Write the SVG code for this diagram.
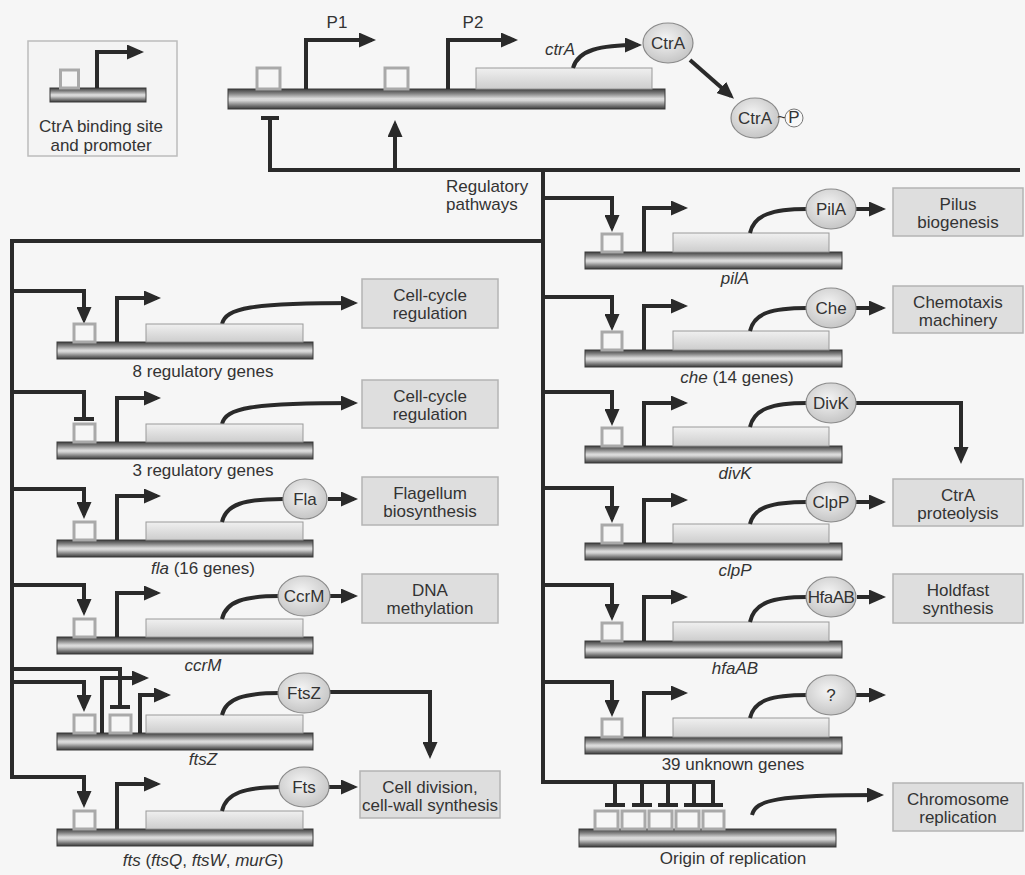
<svg xmlns="http://www.w3.org/2000/svg" width="1025" height="875" viewBox="0 0 1025 875">
<defs>
<linearGradient id="dna" x1="0" y1="0" x2="0" y2="1">
<stop offset="0" stop-color="#3e3e3e"/><stop offset="0.22" stop-color="#808080"/><stop offset="0.48" stop-color="#dcdcdc"/><stop offset="0.58" stop-color="#d4d4d4"/><stop offset="0.82" stop-color="#7a7a7a"/><stop offset="1" stop-color="#3a3a3a"/>
</linearGradient>
<linearGradient id="gene" x1="0" y1="0" x2="0" y2="1">
<stop offset="0" stop-color="#f0f0f0"/><stop offset="1" stop-color="#cdcdcd"/>
</linearGradient>
<radialGradient id="prot" cx="0.45" cy="0.4" r="0.65">
<stop offset="0" stop-color="#f4f4f4"/><stop offset="1" stop-color="#c2c2c2"/>
</radialGradient>
<marker id="ah" markerUnits="userSpaceOnUse" markerWidth="17" markerHeight="15" refX="13" refY="7.5" orient="auto">
<path d="M0,0 L17,7.5 L0,15 z" fill="#2a2a2a"/>
</marker>
<style>
.dna{fill:url(#dna);stroke:#3a3a3a;stroke-width:1}
.gene{fill:url(#gene);stroke:#999;stroke-width:1}
.site{fill:none;stroke:#a9a9a9;stroke-width:3}
.ln{fill:none;stroke:#2a2a2a;stroke-width:4}
.ar{fill:none;stroke:#2a2a2a;stroke-width:4;marker-end:url(#ah)}
.prot{fill:url(#prot);stroke:#8a8a8a;stroke-width:1.2}
.box{fill:#dedede;stroke:#b4b4b4;stroke-width:1.5}
text{font-family:"Liberation Sans",Arial,sans-serif;font-size:17px;fill:#333}
.c{text-anchor:middle}
.i{font-style:italic}
</style>
</defs>
<rect x="0" y="0" width="1025" height="875" fill="#f6f6f6"/>

<g id="legend">
<rect x="28" y="41" width="149" height="115" fill="#f4f4f4" stroke="#bcbcbc" stroke-width="1.5"/>
<rect class="dna" x="50" y="88" width="96" height="14"/>
<rect class="site" x="60.5" y="70" width="18" height="18"/>
<path class="ar" d="M97 88 V52 H140"/>
<text class="c" x="101" y="132">CtrA binding site</text>
<text class="c" x="101" y="151">and promoter</text>
</g>

<g id="ctrA-gene">
<rect class="dna" x="228" y="89" width="437" height="20"/>
<rect class="site" x="257" y="68" width="23" height="21"/>
<rect class="site" x="385" y="68" width="23" height="21"/>
<rect class="gene" x="476" y="68" width="176" height="21"/>
<path class="ar" d="M306 89 V40 H372"/>
<path class="ar" d="M448 89 V40 H514"/>
<text class="c" x="337" y="28">P1</text>
<text class="c" x="473" y="28">P2</text>
<text class="c i" x="560" y="55" font-size="16">ctrA</text>
<path class="ar" d="M573 68 C578 50 600 45 638 45"/>
</g>
<g id="CtrA">
<ellipse class="prot" cx="668" cy="43" rx="25" ry="20"/>
<text class="c" x="668" y="49">CtrA</text>
</g>
<g id="CtrA-P">
<ellipse class="prot" cx="755" cy="118" rx="24" ry="20"/>
<text class="c" x="755" y="124">CtrA</text>
<text x="777" y="123" font-size="15">~</text>
<circle cx="794" cy="118" r="9" fill="#f8f8f8" stroke="#777" stroke-width="1"/>
<text class="c" x="794" y="123" font-size="13">P</text>
</g>

<g id="connectors">
<path class="ar" d="M690 60 L731 96"/>
<path class="ln" d="M270 118 V170 H1020"/>
<path class="ln" d="M261 118 H279"/>
<path class="ar" d="M395 170 V124"/>
<path class="ln" d="M543 170 V782 H713 V805"/>
<path class="ln" d="M543 241 H12 V777 H84 V804" style="marker-end:url(#ah)"/>
<path class="ar" d="M12 291 H84 V320"/>
<path class="ln" d="M12 392 H84 V419 M74 419 H94"/>
<path class="ar" d="M12 489 H84 V515"/>
<path class="ar" d="M12 585 H84 V612"/>
<path class="ln" d="M12 669 H120 V707 M110 707 H130"/>
<path class="ar" d="M12 682 H84 V708"/>
<path class="ar" d="M543 198 H612 V228"/>
<path class="ar" d="M543 297 H612 V327"/>
<path class="ar" d="M543 392 H612 V422"/>
<path class="ar" d="M543 488 H612 V519"/>
<path class="ar" d="M543 585 H612 V617"/>
<path class="ar" d="M543 682 H612 V713"/>
<path class="ln" d="M615 782 V805 M605 805 H625 M642 782 V805 M632 805 H652 M668 782 V805 M658 805 H678 M694 782 V805 M684 805 H704 M703 805 H723"/>
<path class="ar" d="M222 324 C226 308 250 303 354 303"/>
<path class="ar" d="M222 424 C226 408 250 403 354 403"/>
<path class="ar" d="M328 499 H354"/>
<path class="ar" d="M330 596 H354"/>
<path class="ar" d="M330 692 H430 V755"/>
<path class="ar" d="M329 787 H354"/>
<path class="ar" d="M856 209 H882"/>
<path class="ar" d="M856 308 H882"/>
<path class="ar" d="M856 403 H961 V460"/>
<path class="ar" d="M856 502 H882"/>
<path class="ar" d="M857 597 H882"/>
<path class="ar" d="M856 695 H882"/>
<path class="ar" d="M752 815 C756 800 775 795 880 795"/>
</g>

<text x="446" y="192">Regulatory</text>
<text x="446" y="210">pathways</text>

<g id="row-8reg">
<rect class="dna" x="57" y="342" width="256" height="17"/>
<rect class="gene" x="146" y="324" width="157" height="18"/>
<rect class="site" x="74" y="324" width="21" height="18"/>
<path class="ar" d="M117 342 V298 H157"/>
<text class="c" x="203" y="377">8 regulatory genes</text>
</g>
<g id="box-cellcycle1">
<rect class="box" x="362" y="279" width="136" height="49"/>
<text class="c" x="430" y="301">Cell-cycle</text>
<text class="c" x="430" y="319">regulation</text>
</g>

<g id="row-3reg">
<rect class="dna" x="57" y="442" width="256" height="17"/>
<rect class="gene" x="146" y="424" width="157" height="18"/>
<rect class="site" x="74" y="424" width="21" height="18"/>
<path class="ar" d="M117 442 V398 H157"/>
<text class="c" x="203" y="476">3 regulatory genes</text>
</g>
<g id="box-cellcycle2">
<rect class="box" x="362" y="380" width="136" height="48"/>
<text class="c" x="430" y="402">Cell-cycle</text>
<text class="c" x="430" y="420">regulation</text>
</g>

<g id="row-fla">
<rect class="dna" x="57" y="540" width="256" height="17"/>
<rect class="gene" x="146" y="522" width="157" height="18"/>
<rect class="site" x="74" y="522" width="21" height="18"/>
<path class="ar" d="M117 540 V496 H157"/>
<path class="ln" d="M222 522 C226 504 245 499 283 499"/>
<text class="c" x="203" y="574"><tspan class="i">fla</tspan> (16 genes)</text>
</g>
<g id="Fla">
<ellipse class="prot" cx="305" cy="499" rx="22" ry="20"/>
<text class="c" x="305" y="505">Fla</text>
</g>
<g id="box-flagellum">
<rect class="box" x="362" y="477" width="136" height="48"/>
<text class="c" x="430" y="499">Flagellum</text>
<text class="c" x="430" y="517">biosynthesis</text>
</g>

<g id="row-ccrM">
<rect class="dna" x="57" y="637" width="256" height="17"/>
<rect class="gene" x="146" y="619" width="157" height="18"/>
<rect class="site" x="74" y="619" width="21" height="18"/>
<path class="ar" d="M117 637 V593 H157"/>
<path class="ln" d="M222 619 C226 601 245 596 280 596"/>
<text class="c i" x="203" y="671">ccrM</text>
</g>
<g id="CcrM">
<ellipse class="prot" cx="304" cy="596" rx="26" ry="20"/>
<text class="c" x="304" y="602">CcrM</text>
</g>
<g id="box-dna">
<rect class="box" x="362" y="574" width="136" height="49"/>
<text class="c" x="430" y="596">DNA</text>
<text class="c" x="430" y="614">methylation</text>
</g>

<g id="row-ftsZ">
<rect class="dna" x="57" y="733" width="256" height="17"/>
<rect class="gene" x="146" y="715" width="157" height="18"/>
<rect class="site" x="74" y="715" width="21" height="18"/>
<rect class="site" x="110" y="715" width="21" height="18"/>
<path class="ar" d="M102 733 V678 H145"/>
<path class="ar" d="M140 733 V695 H167"/>
<path class="ln" d="M222 715 C226 698 245 693 280 693"/>
<text class="c i" x="203" y="765">ftsZ</text>
</g>
<g id="FtsZ">
<ellipse class="prot" cx="304" cy="693" rx="26" ry="20"/>
<text class="c" x="304" y="699">FtsZ</text>
</g>

<g id="row-fts">
<rect class="dna" x="57" y="829" width="256" height="17"/>
<rect class="gene" x="146" y="811" width="157" height="18"/>
<rect class="site" x="74" y="811" width="21" height="18"/>
<path class="ar" d="M117 829 V784 H157"/>
<path class="ln" d="M222 811 C226 793 245 787 281 787"/>
<text class="c" x="203" y="866"><tspan class="i">fts</tspan> (<tspan class="i">ftsQ</tspan>, <tspan class="i">ftsW</tspan>, <tspan class="i">murG</tspan>)</text>
</g>
<g id="Fts">
<ellipse class="prot" cx="304" cy="787" rx="25" ry="20"/>
<text class="c" x="304" y="793">Fts</text>
</g>
<g id="box-celldivision">
<rect class="box" x="360" y="771" width="140" height="47"/>
<text class="c" x="430" y="793">Cell division,</text>
<text class="c" x="430" y="811">cell-wall synthesis</text>
</g>

<g id="row-pilA">
<rect class="dna" x="585" y="252" width="257" height="17"/>
<rect class="gene" x="673" y="233" width="156" height="19"/>
<rect class="site" x="602" y="234" width="20" height="18"/>
<path class="ar" d="M644 252 V208 H684"/>
<path class="ln" d="M750 233 C754 215 772 209 807 209"/>
<text class="c i" x="735" y="284">pilA</text>
</g>
<g id="PilA">
<ellipse class="prot" cx="831" cy="209" rx="25" ry="20"/>
<text class="c" x="831" y="215">PilA</text>
</g>
<g id="box-pilus">
<rect class="box" x="893" y="188" width="130" height="48"/>
<text class="c" x="958" y="210">Pilus</text>
<text class="c" x="958" y="228">biogenesis</text>
</g>

<g id="row-che">
<rect class="dna" x="585" y="350" width="257" height="17"/>
<rect class="gene" x="673" y="331" width="156" height="19"/>
<rect class="site" x="602" y="332" width="20" height="18"/>
<path class="ar" d="M644 350 V306 H684"/>
<path class="ln" d="M750 331 C754 313 772 308 807 308"/>
<text class="c" x="737" y="383"><tspan class="i">che</tspan> (14 genes)</text>
</g>
<g id="Che">
<ellipse class="prot" cx="831" cy="308" rx="25" ry="20"/>
<text class="c" x="831" y="314">Che</text>
</g>
<g id="box-chemotaxis">
<rect class="box" x="893" y="286" width="130" height="47"/>
<text class="c" x="958" y="308">Chemotaxis</text>
<text class="c" x="958" y="326">machinery</text>
</g>

<g id="row-divK">
<rect class="dna" x="585" y="446" width="257" height="17"/>
<rect class="gene" x="673" y="427" width="156" height="19"/>
<rect class="site" x="602" y="428" width="20" height="18"/>
<path class="ar" d="M644 446 V403 H684"/>
<path class="ln" d="M750 427 C754 409 772 403 807 403"/>
<text class="c i" x="735" y="479">divK</text>
</g>
<g id="DivK">
<ellipse class="prot" cx="831" cy="403" rx="25" ry="20"/>
<text class="c" x="831" y="409">DivK</text>
</g>
<g id="box-proteolysis">
<rect class="box" x="893" y="479" width="130" height="47"/>
<text class="c" x="958" y="501">CtrA</text>
<text class="c" x="958" y="519">proteolysis</text>
</g>

<g id="row-clpP">
<rect class="dna" x="585" y="543" width="257" height="17"/>
<rect class="gene" x="673" y="524" width="156" height="19"/>
<rect class="site" x="602" y="525" width="20" height="18"/>
<path class="ar" d="M644 543 V500 H684"/>
<path class="ln" d="M750 524 C754 507 772 502 807 502"/>
<text class="c i" x="735" y="576">clpP</text>
</g>
<g id="ClpP">
<ellipse class="prot" cx="831" cy="502" rx="25" ry="20"/>
<text class="c" x="831" y="508">ClpP</text>
</g>

<g id="row-hfaAB">
<rect class="dna" x="585" y="641" width="257" height="17"/>
<rect class="gene" x="673" y="622" width="156" height="19"/>
<rect class="site" x="602" y="623" width="20" height="18"/>
<path class="ar" d="M644 641 V597 H684"/>
<path class="ln" d="M750 622 C754 603 772 597 807 597"/>
<text class="c i" x="735" y="674">hfaAB</text>
</g>
<g id="HfaAB">
<ellipse class="prot" cx="831" cy="597" rx="25" ry="20"/>
<text class="c" x="831" y="603" font-size="15" letter-spacing="-0.5">HfaAB</text>
</g>
<g id="box-holdfast">
<rect class="box" x="893" y="574" width="130" height="49"/>
<text class="c" x="958" y="596">Holdfast</text>
<text class="c" x="958" y="614">synthesis</text>
</g>

<g id="row-unknown">
<rect class="dna" x="585" y="737" width="257" height="17"/>
<rect class="gene" x="673" y="718" width="156" height="19"/>
<rect class="site" x="602" y="719" width="20" height="18"/>
<path class="ar" d="M644 737 V693 H684"/>
<path class="ln" d="M750 718 C754 700 772 695 807 695"/>
<text class="c" x="733" y="770">39 unknown genes</text>
</g>
<g id="unknown-protein">
<ellipse class="prot" cx="831" cy="695" rx="25" ry="20"/>
<text class="c" x="831" y="701">?</text>
</g>

<g id="row-origin">
<rect class="dna" x="579" y="829" width="257" height="18"/>
<rect class="site" x="595" y="811" width="23" height="18"/>
<rect class="site" x="622" y="811" width="23" height="18"/>
<rect class="site" x="649" y="811" width="23" height="18"/>
<rect class="site" x="676" y="811" width="23" height="18"/>
<rect class="site" x="703" y="811" width="21" height="18"/>
<text class="c" x="733" y="864">Origin of replication</text>
</g>
<g id="box-chromosome">
<rect class="box" x="893" y="783" width="130" height="48"/>
<text class="c" x="958" y="805">Chromosome</text>
<text class="c" x="958" y="823">replication</text>
</g>
</svg>
